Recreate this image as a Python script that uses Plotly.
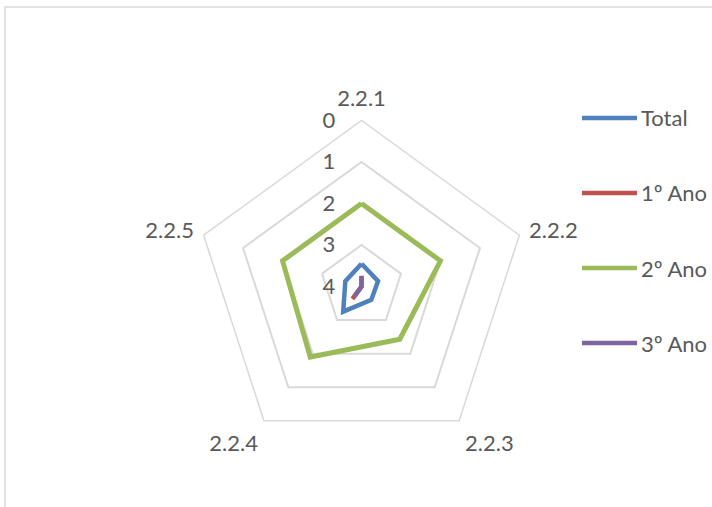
import plotly.graph_objects as go

# Axis categories and series values (radial scale runs 0 at the rim to 4 at the centre)
categories = ["2.2.1", "2.2.2", "2.2.3", "2.2.4", "2.2.5"]
series_names = ["Total", "1º Ano", "2º Ano", "3º Ano"]
total_vals = [3.45, 3.58, 3.6, 3.25, 3.59]
ano1_vals = [3.75, 4.0, 4.0, 3.63, 4.0]
ano2_vals = [2.0, 2.0, 2.43, 1.9, 2.0]
ano3_vals = [3.74, 4.0, 4.0, 3.7, 4.0]
radial_ticks = [0, 1, 2, 3, 4]

series_values = [total_vals, ano1_vals, ano2_vals, ano3_vals]
colors = ["#4F81BD", "#C0504D", "#9BBB59", "#8064A2"]
widths = [4.5, 4.5, 5, 4.5]

W, H = 712, 507
FONT = "Lato"
TXT = "#595959"
GRID = "#D9D9D9"
FS = 22

fig = go.Figure()
for name, vals, col, w in zip(series_names, series_values, colors, widths):
    fig.add_trace(go.Scatterpolar(
        r=vals + vals[:1],
        theta=categories + categories[:1],
        mode="lines",
        name=name,
        line=dict(color=col, width=w),
        showlegend=False,
    ))

# polar area placed in pixel terms
cx, cy, R = 361.5, 286.5, 166
fig.update_layout(
    width=W, height=H,
    margin=dict(l=0, r=0, t=0, b=0),
    paper_bgcolor="white",
    plot_bgcolor="white",
    font=dict(family=FONT, size=FS, color=TXT),
    polar=dict(
        domain=dict(x=[(cx - R) / W, (cx + R) / W],
                    y=[1 - (cy + R) / H, 1 - (cy - R) / H]),
        gridshape="linear",
        bgcolor="white",
        radialaxis=dict(
            range=[4, 0],
            tickvals=radial_ticks,
            ticktext=[str(t) for t in radial_ticks],
            angle=90,
            tickangle=90,
            side="counterclockwise",
            showline=False,
            ticks="outside",
            ticklen=18,
            tickcolor="rgba(0,0,0,0)",
            gridcolor=GRID,
            gridwidth=1.5,
            tickfont=dict(family=FONT, size=FS, color=TXT),
        ),
        angularaxis=dict(
            direction="clockwise",
            rotation=90,
            showgrid=False,
            linecolor=GRID,
            linewidth=1.5,
            ticks="outside",
            ticklen=5,
            tickcolor="rgba(0,0,0,0)",
            tickfont=dict(family=FONT, size=FS, color=TXT),
        ),
    ),
)

# legend drawn as line samples with labels
leg_x0, leg_x1 = 582, 637
leg_y = [118, 193, 268, 343]
shapes = []
annotations = []
for name, col, yy in zip(series_names, colors, leg_y):
    shapes.append(dict(type="line", xref="paper", yref="paper",
                       x0=leg_x0 / W, x1=leg_x1 / W,
                       y0=1 - yy / H, y1=1 - yy / H,
                       line=dict(color=col, width=4.5)))
    annotations.append(dict(text=name, xref="paper", yref="paper",
                            x=(leg_x1 + 2) / W, y=1 - yy / H,
                            xanchor="left", yanchor="middle", showarrow=False,
                            font=dict(family=FONT, size=FS, color=TXT)))

# chart-area border
shapes.append(dict(type="rect", xref="paper", yref="paper",
                   x0=5 / W, x1=1.1, y0=-0.1, y1=1 - 7 / H,
                   line=dict(color=GRID, width=1.5)))

fig.update_layout(shapes=shapes, annotations=annotations)
fig.write_html("out.html")
